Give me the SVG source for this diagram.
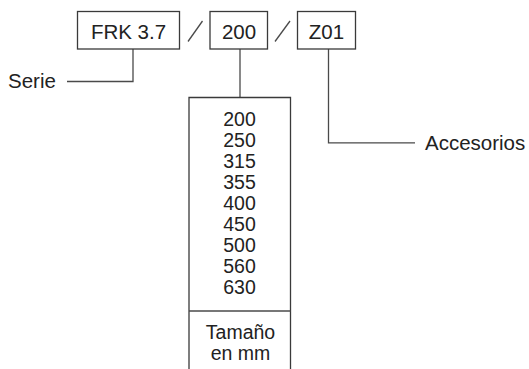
<svg xmlns="http://www.w3.org/2000/svg" width="529" height="369" viewBox="0 0 529 369">
<style>
.box{fill:#fff;stroke:#3a3a3a;stroke-width:1.3}
.ln{fill:none;stroke:#4a4a4a;stroke-width:1.3}
.t{font-family:"Liberation Sans",Arial,sans-serif;font-size:20.5px;fill:#222}
.n{font-family:"Liberation Sans",Arial,sans-serif;font-size:19.5px;fill:#222;text-anchor:middle}
.u{font-family:"Liberation Sans",Arial,sans-serif;font-size:19.5px;fill:#222;text-anchor:middle}
.c{text-anchor:middle}
</style>
<rect width="529" height="369" fill="#fff"/>
<g id="connectors">
<polyline class="ln" points="133,49 133,81.5 67,81.5"/>
<line class="ln" x1="240" y1="49" x2="240" y2="97.5"/>
<polyline class="ln" points="328.5,49 328.5,142.8 415,142.8"/>
<line class="ln" x1="188" y1="41.5" x2="202.5" y2="21"/>
<line class="ln" x1="275" y1="41.5" x2="290" y2="21"/>
</g>
<g id="serie-box">
<rect class="box" x="77.5" y="11.5" width="102" height="37.5"/>
<text class="t c" x="128.5" y="38.5">FRK 3.7</text>
</g>
<g id="size-box">
<rect class="box" x="210" y="11.5" width="57.5" height="37.5"/>
<text class="t c" x="239" y="38.5">200</text>
</g>
<g id="acc-box">
<rect class="box" x="297.5" y="11.5" width="58" height="37.5"/>
<text class="t c" x="326.5" y="38.5">Z01</text>
</g>
<g id="serie-label">
<text class="t" x="8" y="88">Serie</text>
</g>
<g id="acc-label">
<text class="t" x="425" y="150">Accesorios</text>
</g>
<g id="size-table">
<path class="box" d="M189,369 V97.5 H290.5 V369"/>
<line class="ln" x1="189" y1="311" x2="290.5" y2="311"/>
<text class="n" x="239.5" y="125.7">200</text>
<text class="n" x="239.5" y="146.7">250</text>
<text class="n" x="239.5" y="167.7">315</text>
<text class="n" x="239.5" y="188.7">355</text>
<text class="n" x="239.5" y="209.7">400</text>
<text class="n" x="239.5" y="230.7">450</text>
<text class="n" x="239.5" y="251.7">500</text>
<text class="n" x="239.5" y="272.7">560</text>
<text class="n" x="239.5" y="293.7">630</text>
<text class="u" x="240.5" y="339">Tamaño</text>
<text class="u" x="240.5" y="360">en mm</text>
</g>
</svg>
